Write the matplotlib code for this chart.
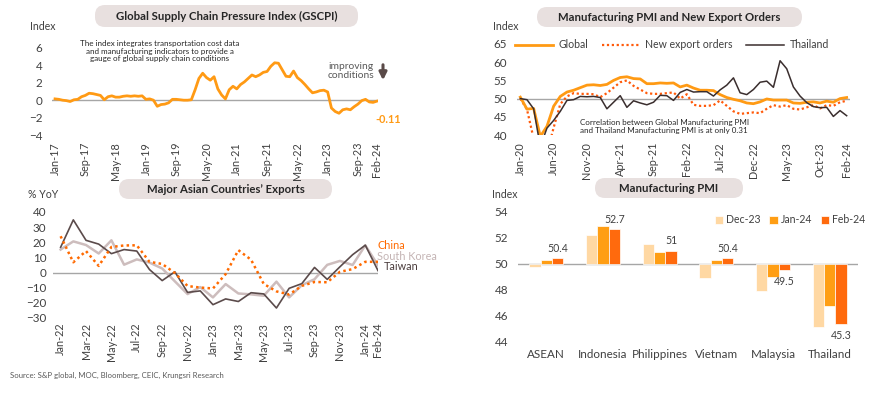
import numpy as np
import pandas as pd
import matplotlib
matplotlib.use('Agg')
import matplotlib.pyplot as plt
from matplotlib.patches import FancyBboxPatch
from matplotlib.lines import Line2D

plt.rcParams['font.family'] = ['Lato', 'DejaVu Sans']

# --- data ---
gscpi = [0.15, 0.10, 0.00, -0.05, -0.15, 0.05, 0.10, 0.40, 0.55, 0.80, 0.75, 0.65,
         0.55, 0.05, 0.40, 0.50, 0.35, 0.35, 0.45, 0.50, 0.45, 0.50, 0.45, 0.50,
         0.10, 0.15, 0.00, -0.70, -0.50, -0.45, -0.30, 0.10, 0.10, 0.05, 0.00, 0.00,
         0.05, 1.20, 2.50, 3.10, 2.60, 2.30, 2.70, 1.30, 0.60, 0.15, 1.20, 1.60,
         1.30, 1.80, 2.10, 2.50, 2.90, 2.70, 2.90, 3.20, 3.30, 3.90, 4.30, 4.25,
         3.50, 2.75, 2.70, 3.35, 2.60, 2.25, 1.80, 1.30, 0.85, 0.95, 1.10, 1.15,
         0.95, -0.90, -1.30, -1.50, -1.10, -1.00, -1.10, -0.75, -0.45, -0.05, 0.10, -0.20,
         -0.25, -0.11]

pmi_global = [50.4, 47.1, 47.3, 39.6, 42.4, 47.9, 50.6, 51.8, 52.3, 53.0, 53.7, 53.8,
              53.6, 53.9, 55.0, 55.8, 56.0, 55.5, 55.4, 54.1, 54.1, 54.3, 54.2, 54.3,
              53.2, 53.7, 52.9, 52.3, 52.3, 52.2, 51.1, 50.3, 49.8, 49.4, 48.8, 48.6,
              49.1, 49.9, 49.6, 49.6, 49.6, 48.8, 48.7, 49.0, 49.1, 48.8, 49.3, 49.0,
              50.0, 50.3]
pmi_export = [50.0, 47.0, 39.0, 35.0, 35.0, 42.0, 48.5, 50.6, 51.5, 51.3, 51.3, 51.2,
              50.4, 51.5, 53.0, 54.5, 55.0, 53.5, 52.5, 51.5, 51.3, 51.3, 51.5, 51.7,
              50.0, 51.2, 48.3, 48.0, 48.0, 48.2, 49.5, 48.0, 46.5, 45.8, 46.0, 46.2,
              46.0, 47.2, 48.2, 47.8, 48.2, 47.2, 47.0, 47.6, 48.2, 47.3, 48.2, 48.0,
              49.0, 49.4]
pmi_thai = [50.0, 49.7, 47.2, 36.8, 41.9, 44.0, 46.5, 49.5, 49.7, 50.6, 50.5, 50.6,
            50.3, 47.2, 49.0, 50.8, 47.6, 49.4, 48.8, 48.3, 49.0, 50.9, 50.8, 49.5,
            51.7, 52.5, 51.8, 51.9, 51.9, 50.7, 52.4, 53.7, 55.7, 51.6, 51.1, 52.5,
            54.5, 54.8, 53.1, 60.4, 58.2, 53.2, 50.7, 48.9, 47.8, 47.5, 47.6, 45.1,
            46.7, 45.3]

exp_china = [24.0, 6.8, 14.2, 4.4, 16.9, 17.9, 18.0, 7.1, 5.7, -0.3, -8.9, -9.9,
             -10.5, -1.0, 14.8, 8.5, -7.5, -12.4, -14.5, -8.8, -6.2, -6.4, 0.5, 2.3,
             7.1, 7.1]
exp_korea = [15.2, 20.6, 18.2, 12.6, 21.3, 5.2, 8.7, 6.6, 2.7, -5.8, -14.2, -9.6,
             -16.4, -7.6, -13.8, -14.4, -15.3, -6.0, -16.4, -8.3, -4.4, 5.1, 7.7, 5.0,
             18.0, 4.8]
exp_taiwan = [16.7, 34.8, 21.3, 18.8, 12.5, 15.2, 14.2, 2.0, -5.3, 0.5, -13.1, -12.1,
              -21.2, -17.4, -19.1, -13.3, -14.1, -23.4, -10.4, -7.3, 3.4, -4.5, 3.8, 11.8,
              18.1, 1.3]

countries = ['ASEAN', 'Indonesia', 'Philippines', 'Vietnam', 'Malaysia', 'Thailand']
pmi_dec23 = [49.7, 52.2, 51.5, 48.9, 47.9, 45.1]
pmi_jan24 = [50.3, 52.9, 50.9, 50.3, 49.0, 46.7]
pmi_feb24 = [50.4, 52.7, 51.0, 50.4, 49.5, 45.3]

W, H = 870, 394
TXT = '#404040'
ORANGE = '#FF9A14'
RED_OR = '#FF5A0A'


def months(start, n):
    return list(pd.period_range(start, periods=n, freq='M').strftime('%b-%y'))


def px_ax(l, t, r, b):
    ax = fig.add_axes([l / W, 1 - b / H, (r - l) / W, (b - t) / H])
    ax.patch.set_alpha(0)
    return ax


def clean(ax, ypad=6):
    for s in ax.spines.values():
        s.set_visible(False)
    ax.tick_params(length=0, labelsize=8.4, labelcolor=TXT)
    ax.tick_params(axis='y', pad=ypad)


def month_ticks(ax, labels, step, pad):
    n = len(labels)
    pos = list(range(0, n - 1, step)) + [n - 1]
    ax.set_xticks(pos)
    ax.set_xticklabels([labels[i] for i in pos], rotation=90, fontsize=7.8)
    ax.tick_params(axis='x', pad=pad)


fig = plt.figure(figsize=(W / 100, H / 100), dpi=100)

# overlay for title pills and loose texts (pixel coords)
ov = fig.add_axes([0, 0, 1, 1])
ov.set_xlim(0, W); ov.set_ylim(H, 0); ov.axis('off')
ov.set_zorder(-1)
for (x0, y0, x1, y1, t) in [(95, 5, 358, 27, 'Global Supply Chain Pressure Index (GSCPI)'),
                            (537, 7, 802, 27, 'Manufacturing PMI and New Export Orders'),
                            (119, 179, 332, 199, 'Major Asian Countries\u2019 Exports'),
                            (595, 178, 743, 198, 'Manufacturing PMI')]:
    ov.add_patch(FancyBboxPatch((x0, y0), x1 - x0, y1 - y0,
                                boxstyle='round,pad=0,rounding_size=10',
                                fc='#E8E0DF', ec='none'))
    ov.text((x0 + x1) / 2, (y0 + y1) / 2 + 0.5, t, ha='center', va='center',
            fontsize=8.2, fontweight='bold', color='#262626')
ov.text(30, 26, 'Index', fontsize=7.6, color=TXT, va='center')
ov.text(493, 26, 'Index', fontsize=7.6, color=TXT, va='center')
ov.text(28, 194, '% YoY', fontsize=7.6, color=TXT, va='center')
ov.text(492, 194, 'Index', fontsize=7.6, color=TXT, va='center')
ov.text(10, 375, 'Source: S&P global, MOC, Bloomberg, CEIC, Krungsri Research',
        fontsize=5.6, color='#595959', va='center')
ov.text(351, 71, 'improving\nconditions', fontsize=7.4, color='#595959',
        ha='center', va='center', linespacing=1.1)
ov.annotate('', xy=(383, 83), xytext=(383, 62),
            arrowprops=dict(arrowstyle='-|>', lw=2.2, color='#5A4A48', mutation_scale=11))

# --- GSCPI ---
ax1 = px_ax(52, 48, 378, 135)
clean(ax1, 7)
x = np.arange(len(gscpi))
ax1.axhline(0, color='#A6A6A6', lw=1)
ax1.plot(x, gscpi, color=ORANGE, lw=2)
ax1.set_xlim(-0.8, 85.3)
ax1.set_ylim(-4, 6)
ax1.set_yticks(range(-4, 7, 2))
month_ticks(ax1, months('2017-01', len(gscpi)), 8, 5)
ax1.text(0.33, 0.965, 'The index integrates transportation cost data\n'
         'and manufacturing indicators to provide a\ngauge of global supply chain conditions',
         transform=ax1.transAxes, ha='center', va='center', fontsize=5.8, color='#262626',
         linespacing=1.15)
ax1.annotate('%.2f' % gscpi[-1], (x[-1], gscpi[-1]), xytext=(-1, -13), textcoords='offset points',
             color=ORANGE, fontsize=7.8, fontweight='bold', ha='left', va='center')

# --- PMI and new export orders ---
ax2 = px_ax(517, 44, 850, 135)
clean(ax2, 7)
x = np.arange(len(pmi_global))
ax2.axhline(50, color='#A6A6A6', lw=1)
ax2.plot(x, pmi_export, color=RED_OR, lw=1.6, ls=(0, (1, 1.2)))
ax2.plot(x, pmi_global, color=ORANGE, lw=2)
ax2.plot(x, pmi_thai, color='#3A2E2E', lw=1.1)
ax2.set_xlim(-0.5, 49.5)
ax2.set_ylim(40, 65)
ax2.set_yticks(range(40, 66, 5))
month_ticks(ax2, months('2020-01', len(pmi_global)), 5, 5)
hd = [Line2D([], [], color=ORANGE, lw=2), Line2D([], [], color=RED_OR, lw=1.6, ls=(0, (1, 1.2))),
      Line2D([], [], color='#3A2E2E', lw=1.1)]
ax2.legend(hd, ['Global', 'New export orders', 'Thailand'], loc='center', ncol=3,
           bbox_to_anchor=(0.466, 0.99), frameon=False, fontsize=7.6, handlelength=3.6,
           columnspacing=1.3, handletextpad=0.5, labelcolor=TXT)
ax2.text(0.19, 0.093, 'Correlation between Global Manufacturing PMI\n'
         'and Thailand Manufacturing PMI is at only 0.31', transform=ax2.transAxes,
         ha='left', va='center', fontsize=5.8, color='#262626', linespacing=1.2)

# --- Asian exports ---
ax3 = px_ax(53, 212, 378, 318)
clean(ax3, 5)
x = np.arange(len(exp_china))
ax3.axhline(0, color='#A6A6A6', lw=1)
ax3.plot(x, exp_korea, color='#CDBDBD', lw=1.8)
ax3.plot(x, exp_taiwan, color='#5B4B4B', lw=1.2)
ax3.plot(x, exp_china, color='#FF6A00', lw=1.8, ls=(0, (1, 1.3)))
ax3.set_xlim(-0.6, 25.0)
ax3.set_ylim(-30, 40)
ax3.set_yticks(range(-30, 41, 10))
month_ticks(ax3, months('2022-01', len(exp_china)), 2, 3.5)
ax3.text(0.997, 0.655, 'China', transform=ax3.transAxes, color='#FF6A00', fontsize=7.8)
ax3.text(0.997, 0.55, 'South Korea', transform=ax3.transAxes, color='#C4B4B4', fontsize=7.8)
ax3.text(1.018, 0.452, 'Taiwan', transform=ax3.transAxes, color='#4A3C3C', fontsize=7.8)

# --- Manufacturing PMI bars ---
ax4 = px_ax(518, 212, 858, 341)
clean(ax4, 7)
xc = np.arange(len(countries))
bw = 0.2
ax4.axhline(50, color='#A6A6A6', lw=1, zorder=1)
for off, vals, col, lab in [(-bw, pmi_dec23, '#FFD8A3', 'Dec-23'), (0, pmi_jan24, '#FF9E14', 'Jan-24'),
                            (bw, pmi_feb24, '#FF6A0D', 'Feb-24')]:
    v = np.array(vals)
    ax4.bar(xc + off, v - 50, bw, bottom=50, color=col, ec='white', lw=0.5, label=lab, zorder=2)
for i, v in enumerate(pmi_feb24):
    up = v >= 50
    ax4.annotate('%g' % v, (xc[i] + bw, v), xytext=(0, 7 if up else -8), textcoords='offset points',
                 ha='center', va='center', fontsize=7.6, color=TXT)
ax4.set_xlim(-0.5, 5.5)
ax4.set_ylim(44, 54)
ax4.set_yticks(range(44, 55, 2))
ax4.set_xticks(xc)
ax4.set_xticklabels(countries, fontsize=8.4)
ax4.tick_params(axis='x', pad=6)
ax4.legend(loc='center', bbox_to_anchor=(0.8, 0.94), ncol=3, frameon=False, fontsize=7.6,
           handlelength=0.8, handleheight=0.8, handletextpad=0.3, columnspacing=0.8,
           labelcolor=TXT)

fig.savefig('out.png', dpi=100)
